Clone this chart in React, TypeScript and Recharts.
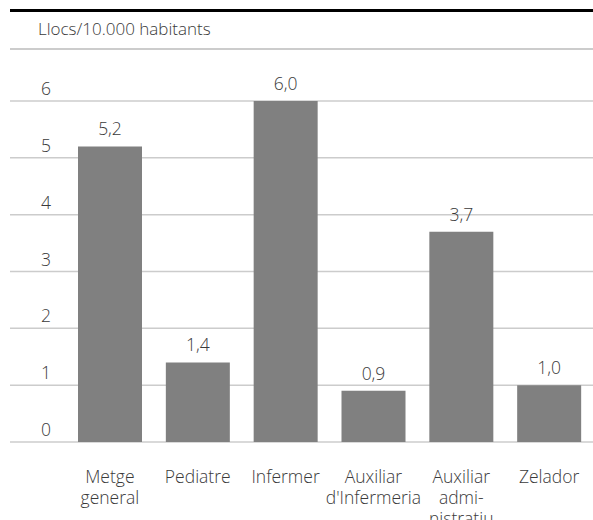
import React from 'react';
import { BarChart, Bar, XAxis, YAxis, CartesianGrid, LabelList } from 'recharts';

// Llocs de treball per 10.000 habitants, per categoria professional
const categories = ['Metge\ngeneral', 'Pediatre', 'Infermer', "Auxiliar\nd'Infermeria", 'Auxiliar\nadmi-\nnistratiu', 'Zelador'];
const values = [5.2, 1.4, 6.0, 0.9, 3.7, 1.0];
const yTicks = [0, 1, 2, 3, 4, 5, 6];
const unitLabel = 'Llocs/10.000 habitants';

const data = categories.map((name, i) => ({ name, value: values[i] }));

const FONT = '"Open Sans", "Noto Sans", sans-serif';
const TEXT = '#3a3a3a';
const SIZE = 17.5;
const WEIGHT = 300;

const fmt = (v: number) => v.toFixed(1).replace('.', ',');

// y labels sit left-aligned just above their gridline
const YTick = (props: any) => {
    const { y, payload } = props;
    return (
        <text x={41} y={y - 6} fill={TEXT} fontSize={SIZE} fontWeight={WEIGHT} fontFamily={FONT} textAnchor="start">
            {payload.value}
        </text>
    );
};

const XTick = (props: any) => {
    const { x, y, payload } = props;
    const lines = String(payload.value).split('\n');
    return (
        <text x={x} y={y} fill={TEXT} fontSize={SIZE} fontWeight={WEIGHT} fontFamily={FONT} textAnchor="middle">
            {lines.map((l, i) => (
                <tspan key={i} x={x} dy={i === 0 ? 33 : 21}>{l}</tspan>
            ))}
        </text>
    );
};

const ValueLabel = (props: any) => {
    const { x, y, width, value } = props;
    return (
        <text x={x + width / 2} y={y - 11} fill={TEXT} fontSize={SIZE} fontWeight={WEIGHT} fontFamily={FONT} textAnchor="middle">
            {fmt(value)}
        </text>
    );
};

export default function App() {
    return (
        <div style={{ position: 'absolute', left: 0, top: 0, width: 593, height: 520, background: '#fff', overflow: 'hidden' }}>
            <div style={{ position: 'absolute', left: 10, top: 9, width: 583, height: 3, background: '#000' }} />
            <div style={{ position: 'absolute', left: 38, top: 17, fontFamily: FONT, fontSize: 17, fontWeight: WEIGHT, color: TEXT, lineHeight: '24px' }}>
                {unitLabel}
            </div>
            <div style={{ position: 'absolute', left: 10, top: 48, width: 583, height: 1.5, background: '#cccccc' }} />
            <BarChart width={593} height={520} data={data} margin={{ top: 101, right: 0, bottom: 0, left: 0 }}>
                <CartesianGrid vertical={false} stroke="#cccccc" strokeWidth={1.5} />
                <XAxis
                    dataKey="name"
                    height={78}
                    axisLine={false}
                    tickLine={false}
                    interval={0}
                    padding={{ left: 56, right: 0 }}
                    tick={<XTick />}
                />
                <YAxis
                    width={10}
                    domain={[0, 6]}
                    ticks={yTicks}
                    axisLine={false}
                    tickLine={false}
                    tick={<YTick />}
                />
                <Bar dataKey="value" fill="#808080" barSize={64} isAnimationActive={false}>
                    <LabelList dataKey="value" content={<ValueLabel />} />
                </Bar>
            </BarChart>
        </div>
    );
}
